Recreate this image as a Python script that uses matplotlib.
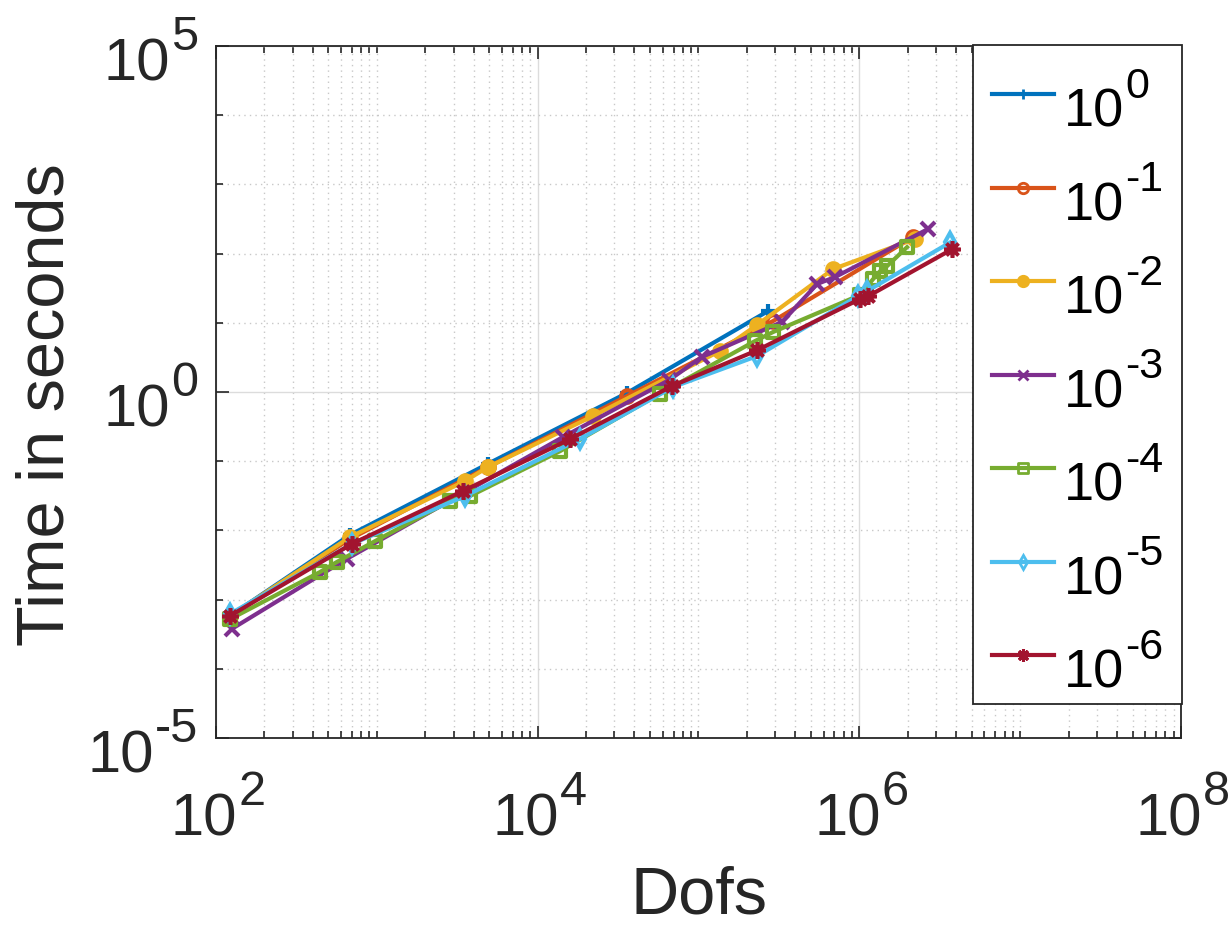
import matplotlib
matplotlib.use("Agg")
import matplotlib.pyplot as plt
from matplotlib.ticker import LogLocator, FixedLocator, NullFormatter
from matplotlib.transforms import IdentityTransform
from matplotlib.markers import MarkerStyle
from matplotlib.lines import Line2D
from matplotlib.patches import Rectangle
import numpy as np

plt.rcParams['font.family'] = ['Liberation Sans', 'DejaVu Sans']

# ---- data ----
label_exps = ['0', '-1', '-2', '-3', '-4', '-5', '-6']

dofs_e0 = [122, 681, 4920, 36000, 271000]
time_e0 = [5.8e-4, 8.6e-3, 0.092, 0.97, 14.8]

dofs_e1 = [122, 681, 4920, 36000, 291000, 2160000]
time_e1 = [5.8e-4, 7.5e-3, 0.0824, 0.875, 10.6, 174]

dofs_e2 = [122, 681, 3540, 4920, 22100, 136000, 231000, 688000, 2220000]
time_e2 = [5.8e-4, 8.0e-3, 0.0518, 0.0824, 0.45, 3.91, 9.3, 59.9, 163]

dofs_e3 = [126, 653, 14400, 66000, 105000, 331000, 547000, 707000, 2680000]
time_e3 = [3.8e-4, 3.9e-3, 0.224, 1.5, 3.21, 10.3, 36.4, 45.9, 227]

dofs_e4 = [122, 443, 565, 975, 2850, 3800, 13800, 57700, 225000, 291000,
           1010000, 1220000, 1350000, 1490000, 1980000]
time_e4 = [5.2e-4, 2.5e-3, 3.5e-3, 7.0e-3, 0.0266, 0.0314, 0.140, 0.95, 5.46, 7.36,
           25.2, 43.0, 56.1, 66.2, 124]

dofs_e5 = [122, 701, 3540, 18300, 69500, 231000, 983000, 1120000, 3670000]
time_e5 = [6.2e-4, 6.4e-3, 0.0314, 0.209, 1.18, 3.3, 24.4, 28.8, 145]

dofs_e6 = [122, 701, 3440, 15900, 68500, 231000, 1010000, 1140000, 3780000]
time_e6 = [5.8e-4, 6.4e-3, 0.0371, 0.209, 1.22, 4.0, 22.1, 24.4, 116]

xtick_vals = [1e2, 1e4, 1e6, 1e8]
xtick_exps = ['2', '4', '6', '8']
ytick_vals = [1e-5, 1e0, 1e5]
ytick_exps = ['-5', '0', '5']

colors = ['#0072BD', '#D95319', '#EDB120', '#7E2F8E', '#77AC30', '#4DBEEE', '#A2142F']
markers = ['+', 'o', 'o', 'x', 's', 'd', (8, 2, 0)]

series = [(dofs_e0, time_e0), (dofs_e1, time_e1), (dofs_e2, time_e2), (dofs_e3, time_e3),
          (dofs_e4, time_e4), (dofs_e5, time_e5), (dofs_e6, time_e6)]

W, H = 1231, 928
fig = plt.figure(figsize=(W/100, H/100), dpi=100)
ax = fig.add_axes([216/W, 1-739/H, (1181-216)/W, (739-47)/H])
ax.set_xscale('log')
ax.set_yscale('log')

LW = 3.0


def style(i, legend=False):
    m = markers[i]
    mw = 2.0 if legend else LW
    kw = dict(color=colors[i], lw=LW, mew=mw, ms=(7 if legend else 10))
    if i == 2:
        kw.update(marker='o', mfc=colors[i], ms=(7.5 if legend else 9))
    elif m == 's':
        kw.update(marker=MarkerStyle('s', joinstyle='round'), mfc='none',
                  ms=(6.5 if legend else 9))
    elif m in ('o', 'd'):
        kw.update(marker=m, mfc='none', ms=(7.5 if legend else 9))
    elif isinstance(m, tuple):
        kw.update(marker=m, mew=(2.2 if legend else 2.6), ms=(9 if legend else 12))
    else:
        kw.update(marker=m)
    return kw


for i, (x, y) in enumerate(series):
    ax.plot(x, y, **style(i))

ax.set_xlim(1e2, 1e8)
ax.set_ylim(1e-5, 1e5)

ax.xaxis.set_major_locator(FixedLocator(xtick_vals))
ax.yaxis.set_major_locator(FixedLocator(ytick_vals))
ax.xaxis.set_minor_locator(LogLocator(base=10, subs=np.arange(1, 10), numticks=50))
ax.yaxis.set_minor_locator(LogLocator(base=10, subs=[1.0], numticks=50))
ax.xaxis.set_major_formatter(NullFormatter())
ax.yaxis.set_major_formatter(NullFormatter())
ax.xaxis.set_minor_formatter(NullFormatter())
ax.yaxis.set_minor_formatter(NullFormatter())

tc = '#262626'
ax.tick_params(which='both', direction='in', top=True, right=True, colors=tc, width=1.2)
ax.tick_params(which='major', length=9)
ax.tick_params(which='minor', length=5)

ax.grid(True, which='major', color='#dcdcdc', lw=1.0, ls='-')
ax.grid(True, which='minor', color='#c8c8c8', lw=1.0, ls=(0, (1, 3)))
ax.set_axisbelow(True)
for s in ax.spines.values():
    s.set_color(tc)
    s.set_linewidth(1.3)

renderer = fig.canvas.get_renderer()
ID = IdentityTransform()


def power_label(x, y, exp, size_b, size_e, raise_px, ha, color):
    """Draw '10' with a superscript exponent; (x, y) = baseline anchor in pixels."""
    t1 = fig.text(0, 0, '10', fontsize=size_b, color=color, transform=ID,
                  ha='left', va='baseline')
    t2 = fig.text(0, 0, exp, fontsize=size_e, color=color, transform=ID,
                  ha='left', va='baseline')
    w1 = t1.get_window_extent(renderer).width
    w2 = t2.get_window_extent(renderer).width
    gap = 1
    total = w1 + gap + w2
    if ha == 'center':
        x0 = x - total / 2
    elif ha == 'right':
        x0 = x - total
    else:
        x0 = x
    t1.set_position((x0, y))
    t2.set_position((x0 + w1 + gap, y + raise_px))


# tick labels (positions from the axes' own scales)
for v, e in zip(xtick_vals, xtick_exps):
    xp = ax.transData.transform((v, 1.0))[0]
    power_label(xp + 2, H - 836, e, 43, 35, 31, 'center', tc)
for v, e in zip(ytick_vals, ytick_exps):
    yp = ax.transData.transform((1e3, v))[1]
    power_label(198, yp - 34, e, 43, 35, 31, 'right', tc)

fig.text(0.5 * (216 + 1181) / W, 1 - 914 / H, 'Dofs', fontsize=48, color=tc,
         ha='center', va='baseline')
fig.text(47 / W, 1 - 405 / H, 'Time in seconds', fontsize=48, color=tc,
         ha='center', va='center', rotation=90)

# legend (drawn in pixel coordinates)
fig.add_artist(Rectangle((973, H - 705), 1182 - 973, 705 - 46, transform=ID,
                         facecolor='white', edgecolor=tc, lw=1.3, zorder=5))
for i in range(len(series)):
    yc = H - (95 + 93.5 * i)
    kw = style(i, legend=True)
    mk = dict(marker=kw.pop('marker'), ms=kw.pop('ms'), mew=kw.pop('mew'),
              mfc=kw.pop('mfc', colors[i]))
    fig.add_artist(Line2D([992, 1054], [yc, yc], transform=ID, zorder=6, **kw))
    fig.add_artist(Line2D([1023], [yc], transform=ID, zorder=7, lw=0,
                          color=colors[i], mec=colors[i], **mk))
    power_label(1064, yc - 32, label_exps[i], 39, 31, 29, 'left', 'black')

for t in fig.texts:
    t.set_zorder(8)

fig.savefig('out.png', dpi=100)
